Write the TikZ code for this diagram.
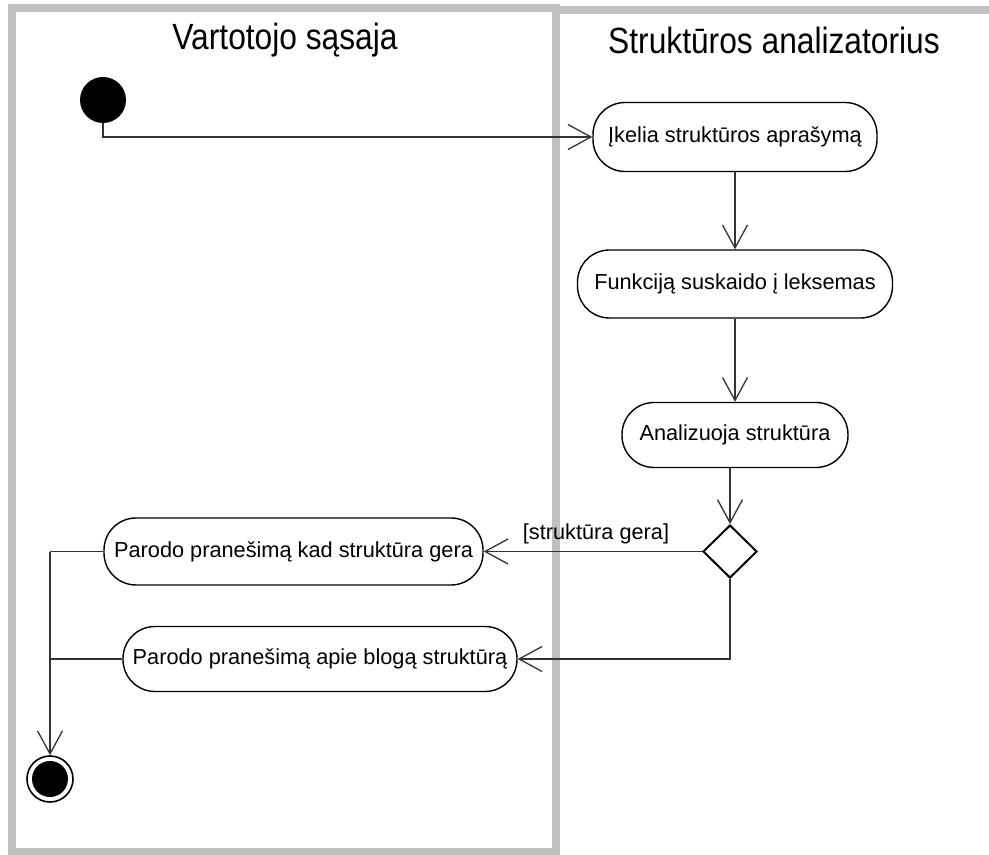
\documentclass[tikz,border=0pt]{standalone}
\usepackage{fontspec}
\setmainfont{Liberation Sans}
\usetikzlibrary{arrows.meta,shapes.geometric}

\def\px{0.75pt}
\definecolor{lanegray}{HTML}{C0C0C0}
\definecolor{wire}{HTML}{333333}

\tikzset{
  lane/.style={draw=lanegray, line width=8*\px},
  lanetitle/.style={font=\fontsize{23.8pt}{28pt}\selectfont, inner sep=0pt},
  action/.style={draw=black, line width=1.4*\px, rectangle, rounded corners=24pt,
    font=\fontsize{16.3pt}{20pt}\selectfont, inner sep=0pt},
  decision/.style={draw=black, line width=2*\px, diamond, inner sep=0pt,
    minimum width=54*\px, minimum height=53*\px},
  flow/.style={draw=wire, line width=1.3*\px,
    -{Straight Barb[length=23*\px, width=25*\px, line width=1.3*\px]}},
  plain/.style={draw=wire, line width=1.3*\px},
  guard/.style={font=\fontsize{16.3pt}{20pt}\selectfont, inner sep=0pt}
}

\begin{document}
\begin{tikzpicture}[x=0.75pt, y=-0.75pt]
  \useasboundingbox (0,0) rectangle (989,855);
  \clip (0,0) rectangle (989,855);

  % swimlanes
  \draw[lane] (556,10) rectangle (998,860);
  \draw[lane] (12,8) rectangle (556,852);
  \node[lanetitle] (t1) at (285,40) {\scalebox{1}[1.15]{Vartotojo sąsaja}};
  \node[lanetitle] (t2) at (774,40) {\scalebox{1}[1.15]{Struktūros analizatorius}};

  % initial and final states
  \node[circle, fill=black, minimum size=46*\px, inner sep=0pt] (start) at (103,100) {};
  \node[circle, draw=black, line width=1.6*\px, minimum size=46*\px, inner sep=0pt] (end) at (50,779) {};
  \fill[black] (end.center) circle (13.5pt);

  % actions
  \node[action, minimum width=284*\px, minimum height=69*\px] (ikelia) at (735,137) {Įkelia struktūros aprašymą};
  \node[action, minimum width=315*\px, minimum height=68*\px] (funk) at (735,284) {Funkciją suskaido į leksemas};
  \node[action, minimum width=226*\px, minimum height=65*\px] (anal) at (735,435) {Analizuoja struktūra};
  \node[decision] (dec) at (730,551.5) {};
  \node[action, minimum width=379*\px, minimum height=67*\px] (p1) at (293.5,551.5) {Parodo pranešimą kad struktūra gera};
  \node[action, minimum width=394*\px, minimum height=65*\px] (p2) at (320,659) {Parodo pranešimą apie blogą struktūrą};

  % connectors
  \draw[flow] (start.south) |- (ikelia.west);
  \draw[flow] (ikelia) -- (funk);
  \draw[flow] (funk) -- (anal);
  \draw[flow] (anal.south -| dec.north) -- (dec.north);
  \draw[flow] (dec.west) -- (p1.east);
  \node[guard] (g) at (596,534) {[struktūra gera]};
  \draw[flow] (dec.south) |- (p2.east);

  \coordinate (join) at (50,551.5);
  \draw[plain] (p1.west) -- (join);
  \draw[plain] (p2.west) -- (p2.west -| join);
  \draw[flow] (join) -- (end.north);
\end{tikzpicture}
\end{document}
